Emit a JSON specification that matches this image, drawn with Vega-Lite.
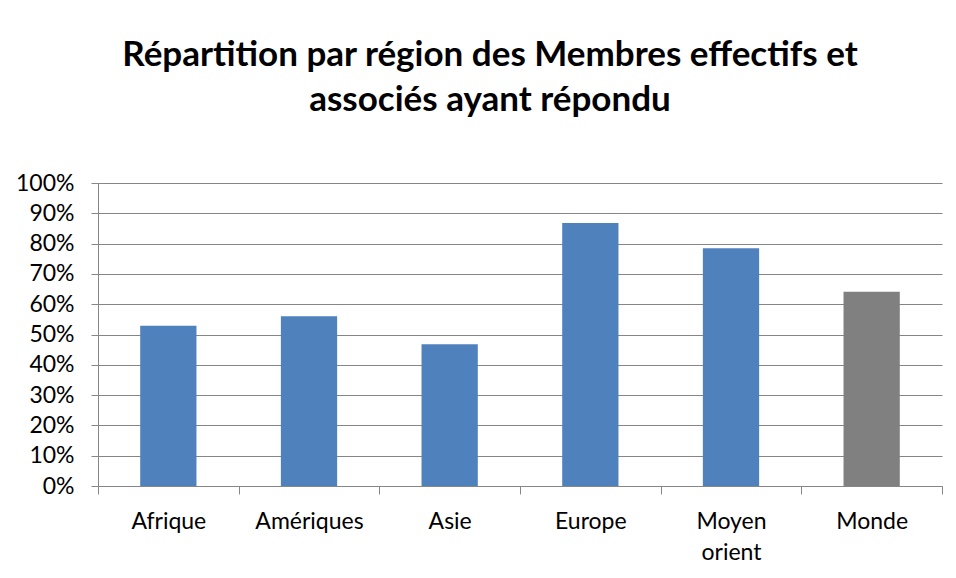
{
  "$schema": "https://vega.github.io/schema/vega-lite/v6.json",
  "autosize": {"type": "none"},
  "width": 844,
  "height": 303,
  "padding": {"left": 98, "top": 183, "right": 14, "bottom": 92},
  "background": "white",
  "title": {
    "text": ["Répartition par région des Membres effectifs et", "associés ayant répondu"],
    "font": "Lato",
    "fontSize": 35,
    "fontWeight": "bold",
    "color": "#000000",
    "lineHeight": 45,
    "anchor": "middle",
    "dx": -30,
    "offset": 54
  },
  "data": {
    "values": [
      {"region": "Afrique", "value": 0.529, "group": "region"},
      {"region": "Amériques", "value": 0.560, "group": "region"},
      {"region": "Asie", "value": 0.468, "group": "region"},
      {"region": "Europe", "value": 0.868, "group": "region"},
      {"region": "Moyen orient", "value": 0.785, "group": "region"},
      {"region": "Monde", "value": 0.641, "group": "monde"}
    ]
  },
  "mark": {"type": "bar", "width": {"band": 0.4}},
  "encoding": {
    "x": {
      "field": "region",
      "type": "nominal",
      "sort": null,
      "scale": {"paddingInner": 0, "paddingOuter": 0},
      "axis": {
        "title": null,
        "labelAngle": 0,
        "labelFont": "Lato",
        "labelFontSize": 23,
        "labelColor": "#000000",
        "labelPadding": 16,
        "labelLineHeight": 31,
        "labelOverlap": false,
        "labelExpr": "datum.value == 'Moyen orient' ? ['Moyen', 'orient'] : datum.value",
        "domainColor": "#868686",
        "tickColor": "#868686",
        "tickSize": 8,
        "tickBand": "extent",
        "grid": false
      }
    },
    "y": {
      "field": "value",
      "type": "quantitative",
      "scale": {"domain": [0, 1]},
      "axis": {
        "title": null,
        "format": ".0%",
        "values": [0, 0.1, 0.2, 0.3, 0.4, 0.5, 0.6, 0.7, 0.8, 0.9, 1],
        "labelFont": "Lato",
        "labelFontSize": 23,
        "labelColor": "#000000",
        "labelPadding": 17,
        "labelOverlap": false,
        "labelBound": false,
        "domainColor": "#868686",
        "tickColor": "#868686",
        "tickSize": 7,
        "gridColor": "#868686",
        "gridWidth": 1
      }
    },
    "color": {
      "field": "group",
      "type": "nominal",
      "scale": {"domain": ["region", "monde"], "range": ["#4F81BD", "#808080"]},
      "legend": null
    }
  },
  "config": {"view": {"stroke": null}}
}
